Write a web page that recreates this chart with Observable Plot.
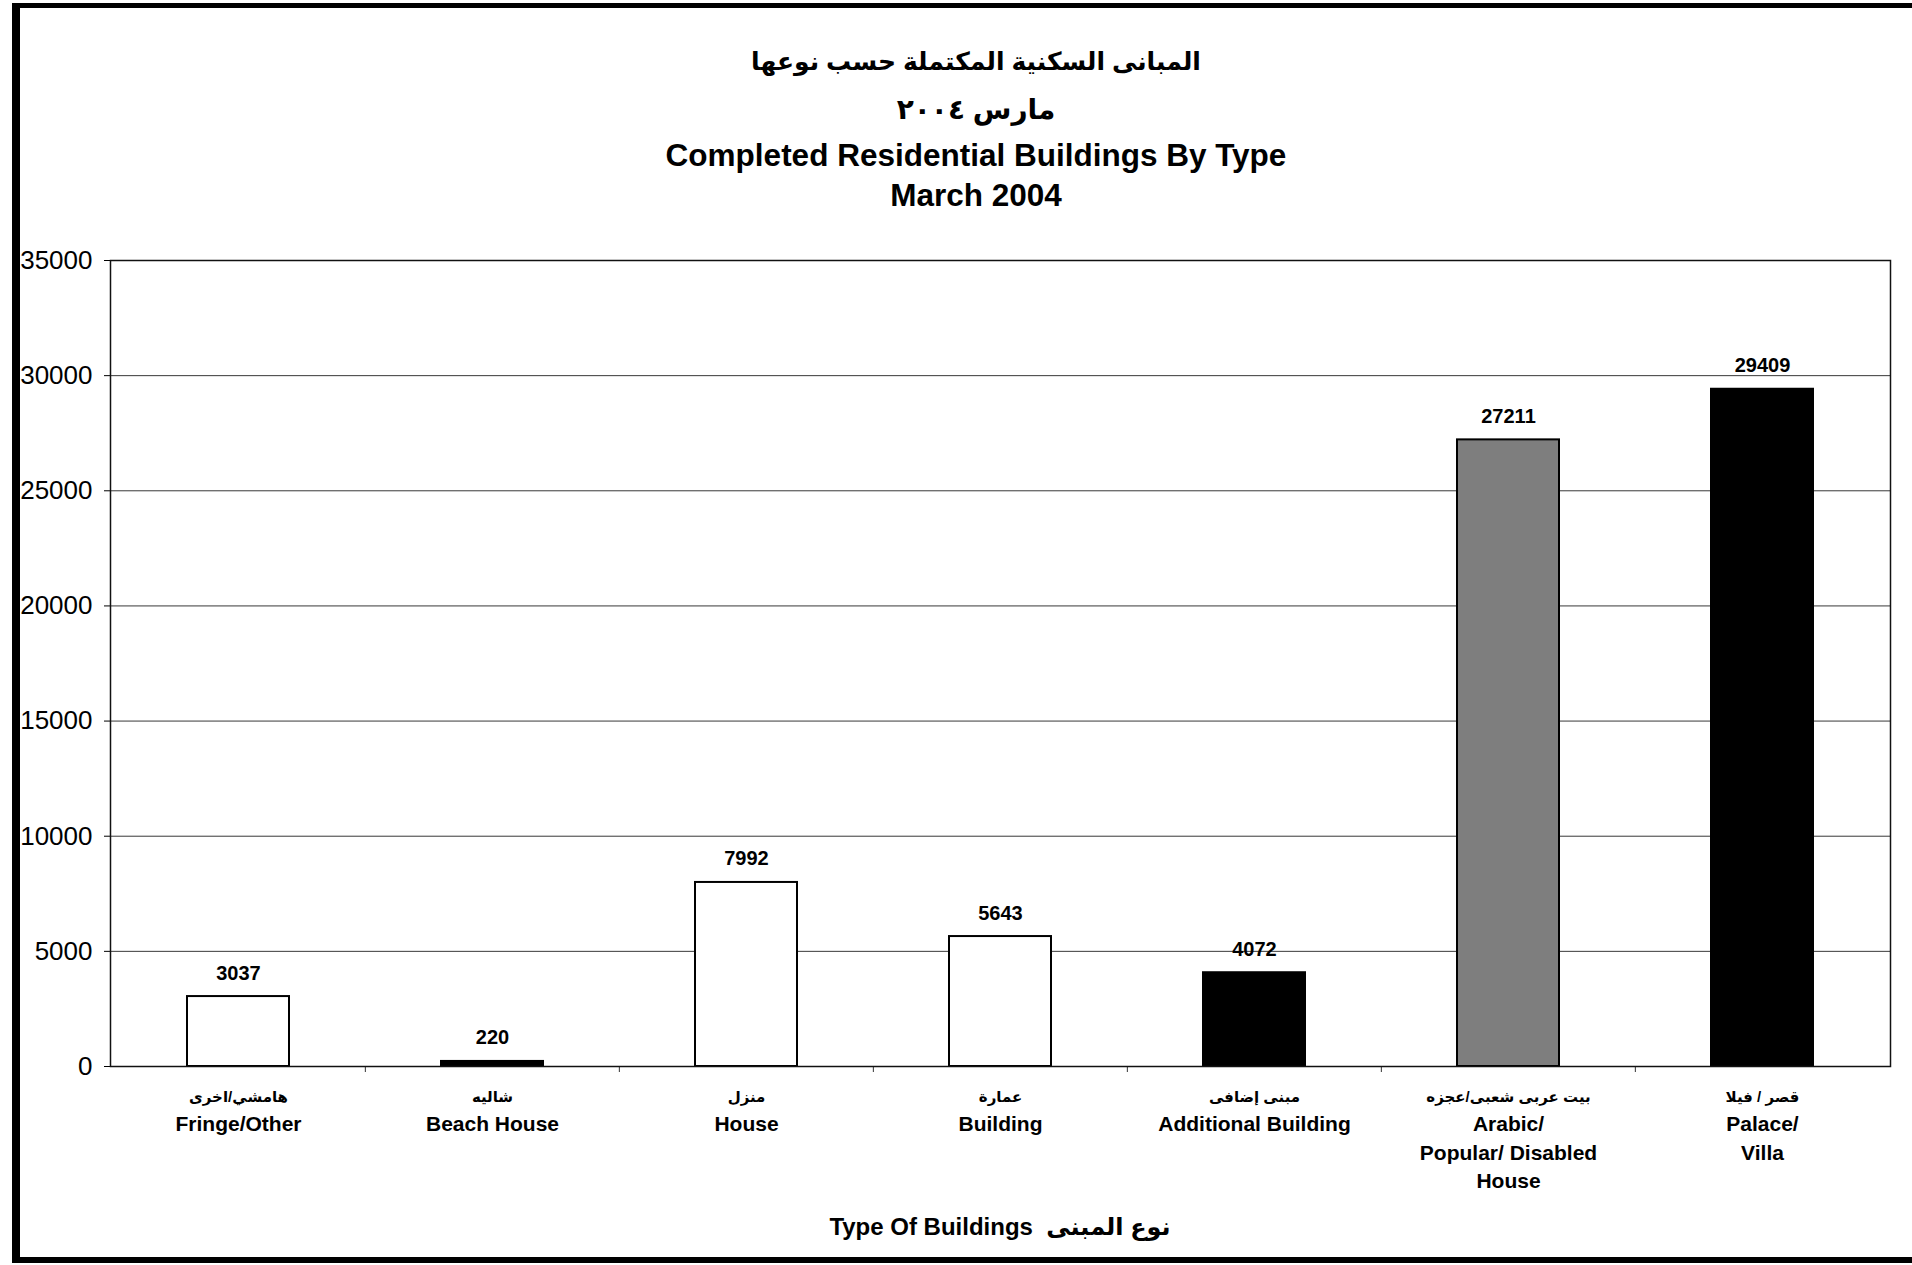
<!DOCTYPE html>
<html>
<head>
<meta charset="utf-8">
<script src="https://cdn.jsdelivr.net/npm/d3@7"></script>
<script src="https://cdn.jsdelivr.net/npm/@observablehq/plot@0.6"></script>
<style>
  html, body { margin: 0; padding: 0; background: #fff; width: 1912px; height: 1265px; overflow: hidden;
    font-family: "Liberation Sans", "DejaVu Sans", Arial, sans-serif; color: #000; }
  #border { position: absolute; left: 12px; top: 3px; width: 1900px; height: 1260px; box-sizing: border-box; z-index: 5;
    border-left: 8px solid #000; border-top: 5px solid #000; border-bottom: 6px solid #000; pointer-events: none; }
  .t { position: absolute; left: 976px; transform: translateX(-50%); white-space: nowrap; font-weight: bold;
    text-align: center; height: 40px; line-height: 40px; }
  #chart { position: absolute; left: 0; top: 220px; }
  #xtitle { position: absolute; left: 1000px; top: 1207px; transform: translateX(-50%); white-space: nowrap;
    font-weight: bold; font-size: 24px; line-height: 40px; }
</style>
</head>
<body>
<div class="t" style="top:41px;font-size:25px;" dir="rtl">المبانى السكنية المكتملة حسب نوعها</div>
<div class="t" style="top:90px;font-size:28px;" dir="rtl">مارس ٢٠٠٤</div>
<div class="t" style="top:135px;font-size:31.5px;">Completed Residential Buildings By Type</div>
<div class="t" style="top:175px;font-size:31.5px;">March 2004</div>
<div id="chart"></div>
<div id="xtitle">Type Of Buildings&nbsp;&nbsp;<span dir="rtl">نوع المبنى</span></div>
<div id="border"></div>
<script>
// ---- data ----
const categoriesEn = [
  "Fringe/Other",
  "Beach House",
  "House",
  "Building",
  "Additional Building",
  "Arabic/\nPopular/ Disabled\nHouse",
  "Palace/\nVilla"
];
const categoriesAr = [
  "هامشي/اخرى",
  "شاليه",
  "منزل",
  "عمارة",
  "مبنى إضافى",
  "بيت عربى شعبى/عجزه",
  "قصر / فيلا"
];
const values = [3037, 220, 7992, 5643, 4072, 27211, 29409];
const yTicks = [0, 5000, 10000, 15000, 20000, 25000, 30000, 35000];

// ---- styles (kept apart from the data) ----
const barColors = ["#ffffff", "#000000", "#ffffff", "#ffffff", "#000000", "#7e7e7e", "#000000"];

const data = categoriesEn.map((c, i) => ({ en: c, ar: categoriesAr[i], value: values[i] }));
const arOf = new Map(categoriesEn.map((c, i) => [c, categoriesAr[i]]));

const W = 1912, H = 980, mL = 110, mR = 22, mT = 40, mB = 134;
const step = (W - mL - mR) / categoriesEn.length;
const yMax = yTicks[yTicks.length - 1];
const tickLen = yMax * 6 / (H - mT - mB);

const chart = Plot.plot({
  width: W, height: H,
  marginLeft: mL, marginRight: mR, marginTop: mT, marginBottom: mB,
  style: { fontFamily: '"Liberation Sans", "DejaVu Sans", Arial, sans-serif', background: "transparent", color: "#000", overflow: "visible" },
  x: { domain: categoriesEn, paddingInner: 0.6, paddingOuter: 0.3 },
  y: { domain: [0, yMax] },
  color: { domain: categoriesEn, range: barColors },
  marks: [
    Plot.gridY(yTicks, { stroke: "#222", strokeOpacity: 0.9, strokeWidth: 1 }),
    Plot.axisY(yTicks, { tickSize: 6, tickPadding: 12, fontSize: 26, tickFormat: d => String(d), label: null }),
    Plot.barY(data, { x: "en", y: "value", fill: "en", stroke: "#000", strokeWidth: 2 }),
    Plot.text(data, { x: "en", y: "value", text: d => String(d.value), lineAnchor: "bottom", dy: -17,
      fontSize: 20, fontWeight: "bold" }),
    Plot.axisX({ tickSize: 0, tickPadding: 25, fontSize: 15, fontWeight: "bold", tickFormat: d => arOf.get(d), label: null }),
    Plot.axisX({ tickSize: 0, tickPadding: 45, fontSize: 21, fontWeight: "bold", tickFormat: d => d, lineHeight: 1.34, label: null }),
    Plot.ruleX(categoriesEn.slice(1), { x: d => d, dx: -step / 2, y1: 0, y2: -tickLen, stroke: "#333" }),
    Plot.frame({ stroke: "#111", strokeWidth: 1.5 })
  ]
});
document.getElementById("chart").appendChild(chart);
</script>
</body>
</html>
